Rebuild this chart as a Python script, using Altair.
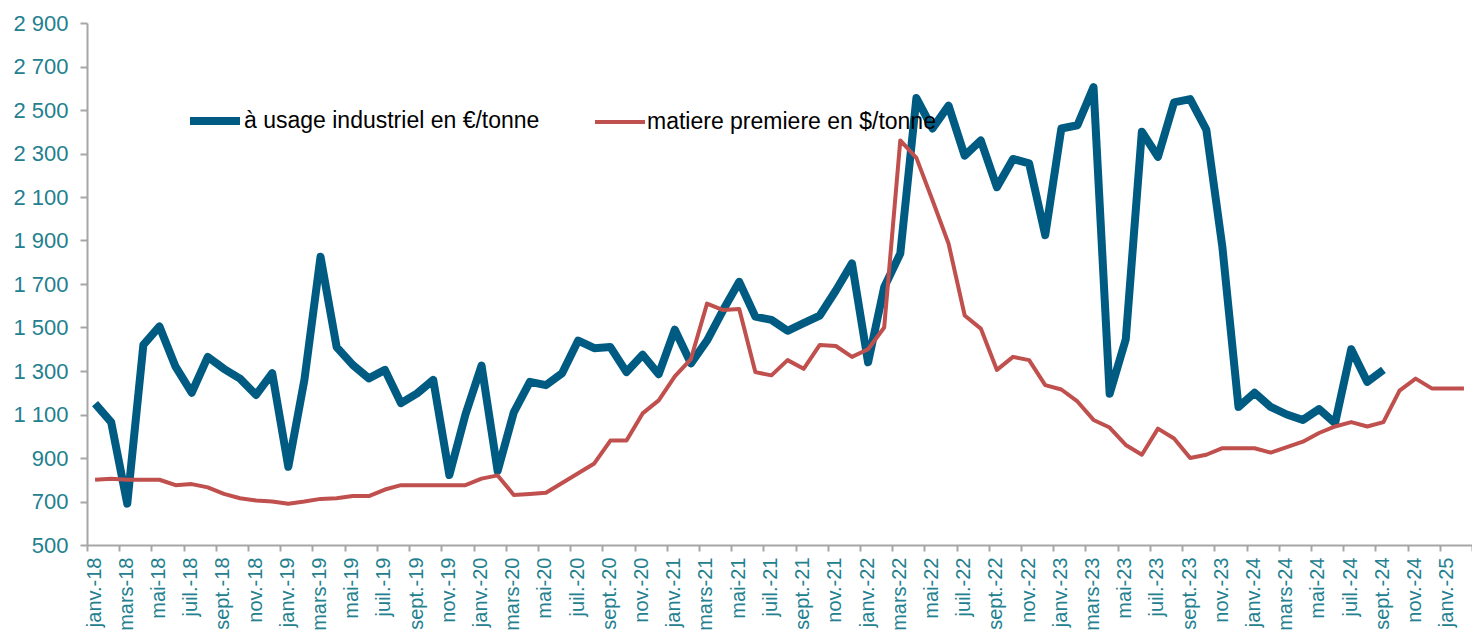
import altair as alt
import pandas as pd

mois = ["janv.", "févr.", "mars", "avr.", "mai", "juin", "juil.", "août", "sept.", "oct.", "nov.", "déc."]
annees = ["18", "19", "20", "21", "22", "23", "24", "25"]
months = [f"{m}-{a}" for a in annees for m in mois][:86]

serie_bleue = "à usage industriel en €/tonne"
serie_rouge = "matiere premiere en $/tonne"

industriel = [
    1150, 1065, 690, 1420, 1505, 1320, 1200, 1365, 1310, 1265, 1190, 1290,
    860, 1260, 1825, 1410, 1328, 1266, 1305, 1152, 1197, 1259, 822, 1100,
    1325, 840, 1110, 1250, 1235, 1290, 1440, 1405, 1410, 1295, 1375, 1285,
    1490, 1335, 1440, 1580, 1710, 1550, 1535, 1485, 1520, 1555, 1670, 1795,
    1340, 1685, 1840, 2555, 2415, 2520, 2290, 2360, 2145, 2275, 2255, 1925,
    2415, 2430, 2605, 1195, 1445, 2400, 2285, 2535, 2550, 2410, 1870, 1135,
    1200, 1135, 1100, 1075, 1125, 1060, 1400, 1250, 1305,
]

matiere = [
    800, 805, 800, 800, 800, 775, 780, 765, 735, 715, 705, 700,
    690, 700, 712, 715, 725, 725, 755, 775, 775, 775, 775, 775,
    805, 820, 730, 735, 740, 785, 830, 875, 980, 980, 1105, 1165,
    1275, 1355, 1610, 1580, 1585, 1295, 1280, 1350, 1310, 1420, 1415, 1365,
    1400, 1500, 2360, 2280, 2085, 1885, 1555, 1495, 1305, 1365, 1350, 1235,
    1215, 1160, 1075, 1040, 960, 915, 1035, 990, 900, 915, 945, 945,
    945, 925, 950, 975, 1015, 1045, 1065, 1045, 1065, 1210, 1265, 1220,
    1220, 1220,
]

rows = []
for i, v in enumerate(industriel):
    rows.append({"x": i + 0.5, "value": v, "series": serie_bleue, "mois": months[i]})
for i, v in enumerate(matiere):
    rows.append({"x": i + 0.5, "value": v, "series": serie_rouge, "mois": months[i]})
df = pd.DataFrame(rows)

BLUE = "#005b82"
RED = "#c0504d"
TEAL = "#23808f"
GREY = "#a6a6a6"
FONT = "Liberation Sans"

labels_js = "[" + ",".join("'" + m + "'" for m in months) + "]"

legend_opts = dict(
    title=None,
    orient="none",
    legendX=99,
    legendY=69,
    direction="horizontal",
    symbolType="stroke",
    symbolSize=2500,
    labelFontSize=23,
    labelFont=FONT,
    labelColor="#000000",
    labelLimit=0,
    labelOffset=0,
    columnPadding=47,
)

chart = alt.Chart(df).mark_line(strokeJoin="round").encode(
    x=alt.X(
        "x:Q",
        scale=alt.Scale(domain=[0, 86], nice=False, zero=False),
        axis=alt.Axis(
            values=list(range(0, 87, 2)),
            labelExpr=f"datum.value < 86 ? {labels_js}[datum.value] : ''",
            labelAngle=270,
            labelOffset=7,
            labelPadding=6,
            labelFontSize=20,
            labelFont=FONT,
            labelColor=TEAL,
            labelOverlap=False,
            labelFlush=False,
            labelBound=False,
            tickSize=6,
            tickWidth=2,
            tickColor=GREY,
            domainColor=GREY,
            domainWidth=2,
            grid=False,
            title=None,
        ),
    ),
    y=alt.Y(
        "value:Q",
        scale=alt.Scale(domain=[500, 2900], nice=False, zero=False),
        axis=alt.Axis(
            values=list(range(500, 2901, 200)),
            labelExpr="replace(format(datum.value, ','), ',', ' ')",
            labelFontSize=22,
            labelFont=FONT,
            labelColor=TEAL,
            labelPadding=12,
            tickSize=7,
            tickWidth=2,
            tickColor=GREY,
            domainColor=GREY,
            domainWidth=2,
            grid=False,
            title=None,
        ),
    ),
    color=alt.Color(
        "series:N",
        scale=alt.Scale(domain=[serie_bleue, serie_rouge], range=[BLUE, RED]),
        legend=alt.Legend(**legend_opts),
    ),
    strokeWidth=alt.StrokeWidth(
        "series:N",
        scale=alt.Scale(domain=[serie_bleue, serie_rouge], range=[8, 4]),
        legend=alt.Legend(**legend_opts),
    ),
).properties(
    width=1385,
    height=522,
    autosize=alt.AutoSizeParams(type="none"),
    padding={"left": 79, "top": 15, "right": 0, "bottom": 87},
).configure_view(stroke=None)

chart.save("out.html", embed_options={"renderer": "svg", "actions": False})
